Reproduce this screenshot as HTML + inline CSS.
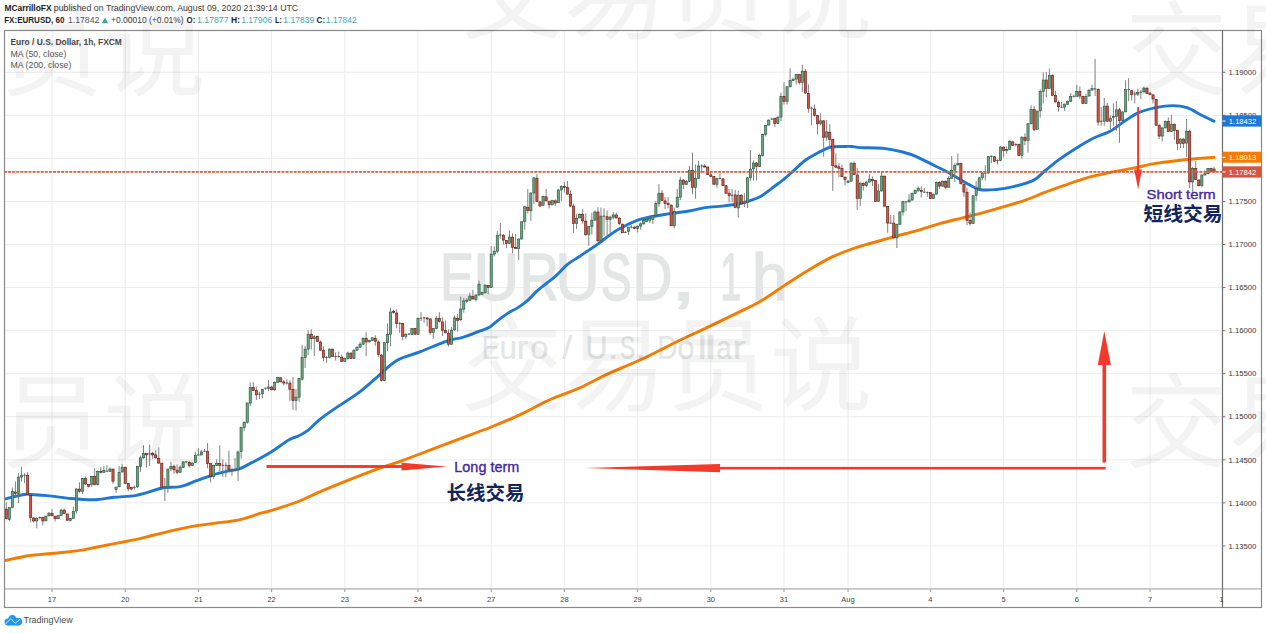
<!DOCTYPE html>
<html><head><meta charset="utf-8">
<style>
html,body{margin:0;padding:0;background:#fff;}
body{width:1266px;height:633px;overflow:hidden;position:relative;}
svg{position:absolute;left:0;top:0;display:block;}
.t{font-family:"Liberation Sans","Noto Sans CJK SC",sans-serif;}
</style></head>
<body>
<svg width="1266" height="633" viewBox="0 0 1266 633">
<rect width="1266" height="633" fill="#fff"/>
<!-- header -->
<g class="t" font-size="8.4">
<text x="4.5" y="11.2" textLength="47.0" lengthAdjust="spacingAndGlyphs" fill="#1e1e1e" font-weight="bold">MCarrilloFX</text>
<text x="53.8" y="11.2" textLength="244.4" lengthAdjust="spacingAndGlyphs" fill="#3c3c3c">published on TradingView.com, August 09, 2020 21:39:14 UTC</text>
<text x="4.2" y="23.2" textLength="60.3" lengthAdjust="spacingAndGlyphs" fill="#1e1e1e" font-weight="bold">FX:EURUSD, 60</text>
<text x="68.0" y="23.2" textLength="31.3" lengthAdjust="spacingAndGlyphs" fill="#555">1.17842</text>
<text x="111.1" y="23.2" textLength="72.6" lengthAdjust="spacingAndGlyphs" fill="#3c3c3c">+0.00010 (+0.01%)</text>
<text x="186.5" y="23.2" textLength="8.8" lengthAdjust="spacingAndGlyphs" fill="#1e1e1e" font-weight="bold">O:</text>
<text x="197.0" y="23.2" textLength="31.6" lengthAdjust="spacingAndGlyphs" fill="#4aa7a8">1.17877</text>
<text x="231.0" y="23.2" textLength="9.0" lengthAdjust="spacingAndGlyphs" fill="#1e1e1e" font-weight="bold">H:</text>
<text x="241.2" y="23.2" textLength="31.0" lengthAdjust="spacingAndGlyphs" fill="#4aa7a8">1.17906</text>
<text x="275.0" y="23.2" textLength="6.9" lengthAdjust="spacingAndGlyphs" fill="#1e1e1e" font-weight="bold">L:</text>
<text x="283.3" y="23.2" textLength="30.9" lengthAdjust="spacingAndGlyphs" fill="#4aa7a8">1.17839</text>
<text x="316.6" y="23.2" textLength="8.5" lengthAdjust="spacingAndGlyphs" fill="#1e1e1e" font-weight="bold">C:</text>
<text x="326.0" y="23.2" textLength="30.6" lengthAdjust="spacingAndGlyphs" fill="#4aa7a8">1.17842</text>
<path d="M101.8 23.2L104.95 17.4L108.1 23.2Z" fill="#3fa7a0"/>
</g>
<!-- grid -->
<path d="M4 545.96H1222M4 502.9H1222M4 459.84H1222M4 416.78H1222M4 373.72H1222M4 330.66H1222M4 287.6H1222M4 244.54H1222M4 201.48H1222M4 158.42H1222M4 115.36H1222M4 72.3H1222M52 30V589M125.2 30V589M198.4 30V589M271.6 30V589M344.8 30V589M418 30V589M491.2 30V589M564.4 30V589M637.6 30V589M710.8 30V589M784 30V589M848.05 30V589M930.4 30V589M1003.6 30V589M1076.8 30V589M1150 30V589" stroke="#ececec" stroke-width="1" fill="none"/>
<!-- symbol watermark -->
<g class="t" fill="#e4e5e5" stroke="#e4e5e5" stroke-width="1.6" stroke-linejoin="round"><text transform="matrix(0.7464 0 0 1 440.37 300.00)" font-size="67.5">E</text><text transform="matrix(0.9391 0 0 1 473.58 300.00)" font-size="67.5">U</text><text transform="matrix(0.8014 0 0 1 519.71 300.00)" font-size="67.5">R</text><text transform="matrix(0.9036 0 0 1 555.54 300.00)" font-size="67.5">U</text><text transform="matrix(0.6837 0 0 1 600.64 300.00)" font-size="67.5">S</text><text transform="matrix(0.8183 0 0 1 632.54 300.00)" font-size="67.5">D</text><text transform="matrix(1.3653 0 0 1 670.80 300.00)" font-size="67.5">,</text><text transform="matrix(0.5584 0 0 1 720.33 300.00)" font-size="67.5">1</text><text transform="matrix(0.9482 0 0 1 752.08 300.00)" font-size="67.5">h</text></g><g class="t" fill="#e4e5e5" stroke="#e4e5e5" stroke-width="0.15" stroke-linejoin="round"><text transform="matrix(0.7802 0 0 1 481.74 358.90)" font-size="33.9">E</text><text transform="matrix(0.9244 0 0 1 499.38 358.90)" font-size="33.9">u</text><text transform="matrix(1.0319 0 0 1 516.83 358.90)" font-size="33.9">r</text><text transform="matrix(0.9638 0 0 1 530.17 358.90)" font-size="33.9">o</text><text transform="matrix(1.0890 0 0 1 561.88 358.90)" font-size="33.9">/</text><text transform="matrix(0.8989 0 0 1 585.43 358.90)" font-size="33.9">U</text><text transform="matrix(1.1299 0 0 1 607.64 358.90)" font-size="33.9">.</text><text transform="matrix(0.6676 0 0 1 619.92 358.90)" font-size="33.9">S</text><text transform="matrix(1.1582 0 0 1 635.35 358.90)" font-size="33.9">.</text><text transform="matrix(0.8238 0 0 1 657.33 358.90)" font-size="33.9">D</text><text transform="matrix(0.9202 0 0 1 677.32 358.90)" font-size="33.9">o</text><text transform="matrix(1.2808 0 0 1 697.46 358.90)" font-size="33.9">l</text><text transform="matrix(1.6870 0 0 1 704.12 358.90)" font-size="33.9">l</text><text transform="matrix(0.7987 0 0 1 716.58 358.90)" font-size="33.9">a</text><text transform="matrix(1.1710 0 0 1 732.61 358.90)" font-size="33.9">r</text></g>
<!-- legend -->
<g class="t" font-size="8.6" fill="#555">
<text x="10.5" y="44.8" font-weight="bold" fill="#4a4a4a" textLength="111.4" lengthAdjust="spacingAndGlyphs">Euro / U.S. Dollar, 1h, FXCM</text>
<text x="10.5" y="56.7" textLength="55.9" lengthAdjust="spacingAndGlyphs">MA (50, close)</text>
<text x="10.5" y="68.4" textLength="60.9" lengthAdjust="spacingAndGlyphs">MA (200, close)</text>
</g>
<defs><clipPath id="pc"><rect x="5" y="31" width="1217" height="557.5"/></clipPath></defs>
<g clip-path="url(#pc)">
<!-- MAs -->
<path d="M4.7 560.6C8.65 559.8 20.5 556.98 28.4 555.8C36.3 554.62 43.8 554.37 52.1 553.5C60.4 552.63 71.08 551.6 78.2 550.6C85.32 549.6 88.08 548.8 94.8 547.5C101.52 546.2 111.78 544.1 118.5 542.8C125.22 541.5 129.18 541 135.1 539.7C141.02 538.4 145.32 537.05 154 535C162.68 532.95 177.32 529.33 187.2 527.4C197.08 525.47 204.62 524.67 213.3 523.4C221.98 522.13 231.4 521.5 239.3 519.8C247.2 518.1 255.58 514.68 260.7 513.2C265.82 511.72 263.72 512.85 270 510.9C276.28 508.95 290.5 504.5 298.4 501.5C306.3 498.5 309.48 496.28 317.4 492.9C325.32 489.52 336.42 484.98 345.9 481.2C355.38 477.42 364.82 473.68 374.3 470.2C383.78 466.72 393.32 463.72 402.8 460.3C412.28 456.88 421.73 453.27 431.2 449.7C440.67 446.13 449.8 442.6 459.6 438.9C469.4 435.2 480.08 431.47 490 427.5C499.92 423.53 508.98 419.8 519.1 415.1C529.22 410.4 540.55 403.85 550.7 399.3C560.85 394.75 570.38 392.08 580 387.8C589.62 383.52 598.13 378.35 608.4 373.6C618.67 368.85 630.53 364.45 641.6 359.3C652.67 354.15 663.73 348.07 674.8 342.7C685.87 337.33 697.73 331.98 708 327.1C718.27 322.22 727.72 317.67 736.4 313.4C745.08 309.13 752.2 306.08 760.1 301.5C768 296.92 775.9 291.03 783.8 285.9C791.7 280.77 799.6 275.45 807.5 270.7C815.4 265.95 823.3 261.18 831.2 257.4C839.1 253.62 847.25 250.65 854.9 248C862.55 245.35 870.08 243.52 877.1 241.5C884.12 239.48 890.37 237.7 897 235.9C903.63 234.1 909.8 232.73 916.9 230.7C924 228.67 932.02 225.83 939.6 223.7C947.18 221.57 955.77 219.58 962.4 217.9C969.03 216.22 972.77 215.4 979.4 213.6C986.03 211.8 994.62 209.32 1002.2 207.1C1009.78 204.88 1017.8 202.75 1024.9 200.3C1032 197.85 1038.17 194.9 1044.8 192.4C1051.43 189.9 1057.58 187.77 1064.7 185.3C1071.82 182.83 1079.92 179.73 1087.5 177.6C1095.08 175.47 1102.62 174.07 1110.2 172.5C1117.78 170.93 1125.42 169.72 1133 168.2C1140.58 166.68 1148.12 164.68 1155.7 163.4C1163.28 162.12 1170.92 161.37 1178.5 160.5C1186.08 159.63 1195.28 158.73 1201.2 158.2C1207.12 157.67 1211.87 157.45 1214 157.3" stroke="#f57c00" stroke-width="2.9" fill="none" stroke-linejoin="round" stroke-linecap="round"/>
<path d="M4.7 499.2C6.28 498.77 10.63 497.43 14.2 496.6C17.77 495.77 23.33 494.55 26.1 494.2C28.87 493.85 27.25 494.27 30.8 494.5C34.35 494.73 40.68 494.93 47.4 495.6C54.12 496.27 63.2 497.82 71.1 498.5C79 499.18 87.7 499.9 94.8 499.7C101.9 499.5 106.98 497.98 113.7 497.3C120.42 496.62 129.57 496.38 135.1 495.6C140.63 494.82 142.17 493.9 146.9 492.6C151.63 491.3 157.97 488.8 163.5 487.8C169.03 486.8 174.57 487.78 180.1 486.6C185.63 485.42 191.17 482.67 196.7 480.7C202.23 478.73 208.17 476.38 213.3 474.8C218.43 473.22 223.17 472.18 227.5 471.2C231.83 470.22 235.35 470.28 239.3 468.9C243.25 467.52 246.08 465.6 251.2 462.9C256.32 460.2 263.7 456.55 270 452.7C276.3 448.85 284.27 442.58 289 439.8C293.73 437.02 295.25 437.58 298.4 436C301.55 434.42 304.42 432.98 307.9 430.3C311.38 427.62 315.18 423.27 319.3 419.9C323.42 416.53 326.08 414.6 332.6 410.1C339.12 405.6 350.93 398.45 358.4 392.9C365.87 387.35 371.07 382.17 377.4 376.8C383.73 371.43 389.45 364.82 396.4 360.7C403.35 356.58 410.58 355.42 419.1 352.1C427.62 348.78 440.23 343.25 447.5 340.8C454.77 338.35 457.28 339.05 462.7 337.4C468.12 335.75 475.53 332.6 480 330.9C484.47 329.2 486.33 329.08 489.5 327.2C492.67 325.32 495.85 321.98 499 319.6C502.15 317.22 505.25 314.9 508.4 312.9C511.55 310.9 514.73 309.65 517.9 307.6C521.07 305.55 524.23 303.35 527.4 300.6C530.57 297.85 533.73 293.95 536.9 291.1C540.07 288.25 543.23 286.03 546.4 283.5C549.57 280.97 552.43 279.05 555.9 275.9C559.37 272.75 563.42 267.75 567.2 264.6C570.98 261.45 574.8 259.53 578.6 257C582.4 254.47 586.52 251.77 590 249.4C593.48 247.03 596.02 245.33 599.5 242.8C602.98 240.27 607.48 236.58 610.9 234.2C614.32 231.82 615.02 231 620 228.5C624.98 226 632.42 221.68 640.8 219.2C649.18 216.72 662.48 214.92 670.3 213.6C678.12 212.28 681.9 212.3 687.7 211.3C693.5 210.3 699.32 208.47 705.1 207.6C710.88 206.73 717.2 206.65 722.4 206.1C727.6 205.55 732.23 205.03 736.3 204.3C740.37 203.57 742.85 202.95 746.8 201.7C750.75 200.45 755.83 199.03 760 196.8C764.17 194.57 767.85 191.2 771.8 188.3C775.75 185.4 780.13 182.27 783.7 179.4C787.27 176.53 789.65 174.25 793.2 171.1C796.75 167.95 801.25 163.35 805 160.5C808.75 157.65 812.13 155.98 815.7 154C819.27 152.02 823.63 149.8 826.4 148.6C829.17 147.4 829.55 147.15 832.3 146.8C835.05 146.45 839.55 146.55 842.9 146.5C846.25 146.45 849.55 146.32 852.4 146.5C855.25 146.68 854.95 147.3 860 147.6C865.05 147.9 875.6 147.57 882.7 148.3C889.8 149.03 896.9 150.58 902.6 152C908.3 153.42 911.68 154.58 916.9 156.8C922.12 159.02 928.22 162.45 933.9 165.3C939.58 168.15 945.78 171.05 951 173.9C956.22 176.75 960.47 179.8 965.2 182.4C969.93 185 974.18 188.32 979.4 189.5C984.62 190.68 990.82 189.97 996.5 189.5C1002.18 189.03 1007.35 188.22 1013.5 186.7C1019.65 185.18 1028.18 183.02 1033.4 180.4C1038.62 177.78 1040.53 174.45 1044.8 171C1049.07 167.55 1053.78 163.48 1059 159.7C1064.22 155.92 1070.4 151.87 1076.1 148.3C1081.8 144.73 1087.52 141.15 1093.2 138.3C1098.88 135.45 1105 134.03 1110.2 131.2C1115.4 128.37 1119.67 124.38 1124.4 121.3C1129.13 118.22 1133.38 114.98 1138.6 112.7C1143.82 110.42 1150 108.78 1155.7 107.6C1161.4 106.42 1167.58 105.6 1172.8 105.6C1178.02 105.6 1182.27 106.03 1187 107.6C1191.73 109.17 1196.7 112.73 1201.2 115C1205.7 117.27 1211.87 120.17 1214 121.2" stroke="#1e77d3" stroke-width="2.9" fill="none" stroke-linejoin="round" stroke-linecap="round"/>
<!-- candles -->
<path d="M6.25 502.37V519.45M9.3 507.57V520.93M12.35 487.52V508.31M15.4 481.58V497.17M18.45 473.41V503.11M21.5 466.73V481.58M24.55 473.41V483.07M27.6 471.93V494.95M30.65 495.24V522.42M33.7 517.22V522.42M36.75 517.22V528.36M39.8 516.48V519.45M42.85 517.22V525.39M45.9 516.03V520.93M48.95 512.02V516.48M52 509.05V516.48M55.05 516.18V521.68M58.1 515.44V518.71M61.15 509.05V515.74M64.2 508.61V513.8M67.25 513.95V520.93M70.3 518.41V521.38M73.35 506.53V518.71M76.4 488.26V513.51M79.45 482.32V492.72M82.5 477.87V494.2M85.55 476.38V484.55M88.6 484.25V487.52M91.65 476.38V486.78M94.7 468.22V485.29M97.75 470.49V485.34M100.8 466.78V473.46M103.85 466.04V472.72M106.9 465.29V471.98M109.95 467.52V471.98M113 469.01V483.86M116.05 486.83V492.77M119.1 466.04V487.12M122.15 463.81V472.27M125.2 466.78V483.86M128.25 483.56V491.28M131.3 486.83V490.54M134.35 485.34V489.8M137.4 466.04V488.31M140.45 455.64V471.98M143.5 445.25V458.61M146.55 453.41V467.52M149.6 444.5V466.04M152.65 451.93V458.61M155.7 450.44V458.61M158.75 447.47V463.81M161.8 463.07V487.57M164.85 477.92V500.93M167.9 469.01V492.77M170.95 461.58V471.23M174 464.55V473.76M177.05 464.55V474.2M180.1 465.29V472.72M183.15 461.28V467.82M186.2 460.84V463.07M189.25 460.89V467.57M192.3 462.37V465.64M195.35 451.98V462.67M198.4 448.26V455.69M201.45 449.75V455.24M204.5 449.01V451.98M207.55 443.07V468.31M210.6 463.56V482.42M213.65 464.6V478.71M216.7 459.4V466.08M219.75 445.29V471.28M222.8 459.4V477.22M225.85 462.37V477.22M228.9 450.49V470.54M231.95 467.57V475.74M235 457.92V471.28M238.05 450.49V480.93M241.1 426.73V458.66M244.15 421.53V431.19M247.2 402.67V423.76M250.25 382.28V406.04M253.3 382.28V391.19M256.35 386.73V400.1M259.4 391.93V398.91M262.45 388.96V398.31M265.5 387.47V389.7M268.55 380.05V391.19M271.6 385.99V390.44M274.65 381.53V391.19M277.7 377.08V383.02M280.75 376.83V382.32M283.8 380.1V385.29M286.85 379.35V384.55M289.9 380.1V400.89M292.95 377.13V409.8M296 389.01V410.54M299.05 377.87V401.63M302.1 344.95V380.59M305.15 345.69V367.96M308.2 330.1V355.34M311.25 329.35V349.4M314.3 335.29V356.08M317.35 335.74V341.98M320.4 340.49V350.89M323.45 346.43V361.28M326.5 356.08V362.77M329.55 348.66V358.31M332.6 349.1V356.83M335.65 352.37V360.54M338.7 351.63V357.57M341.75 354.6V361.58M344.8 357.57V362.02M347.85 351.63V359.8M350.9 352.37V359.05M353.95 349.4V358.61M357 346.43V350.89M360.05 341.98V347.92M363.1 337.52V344.65M366.15 332.32V356.08M369.2 339.75V342.27M372.25 337.22V341.23M375.3 335.29V345.69M378.35 339.75V356.83M381.4 353.86V381.33M384.45 341.98V381.33M387.5 323.41V350.89M390.55 307.82V346.43M393.6 310.05V313.76M396.65 309.31V328.31M399.7 321.93V333.07M402.75 322.97V340.49M405.8 333.36V339.01M408.85 333.07V334.85M411.9 327.87V334.85M414.95 327.87V334.55M418 317.47V334.55M421.05 312.28V321.19M424.1 316.73V322.67M427.15 317.47V326.38M430.2 318.22V334.55M433.25 327.87V339.01M436.3 315.99V329.35M439.35 312.28V322.67M442.4 317.47V336.04M445.45 320.44V333.36M448.5 329.35V346.43M451.55 327.13V344.95M454.6 315.25V330.84M457.65 313.76V331.58M460.7 296.68V321.19M463.75 297.96V312.81M466.8 297.96V303.16M469.85 292.77V300.93M472.9 289.8V299.45M475.95 294.25V301.38M479 280.59V295.74M482.05 292.02V294.55M485.1 284.6V293.51M488.15 284.6V294.25M491.2 245.99V288.01M494.25 246.43V256.38M497.3 231.14V253.41M500.35 222.97V238.56M503.4 234.11V244.5M506.45 240.05V248.22M509.5 230.4V243.76M512.55 233.37V253.41M515.6 234.11V248.96M518.65 238.56V260.1M521.7 221.49V239.31M524.75 206.04V229.8M527.8 188.96V213.46M530.85 192.67V220.89M533.9 177.52V203.81M536.95 174.11V201.88M540 201.28V206.78M543.05 195.64V206.04M546.1 188.96V201.28M549.15 200.84V208.26M552.2 199.8V205.29M555.25 199.35V206.04M558.3 188.96V203.07M561.35 185.25V200.84M564.4 181.98V192.67M567.45 181.09V194.45M570.5 190.44V207.22M573.55 203.81V232.77M576.6 214.2V229.05M579.65 213.76V218.21M582.7 209.01V223.86M585.75 213.46V235.74M588.8 226.08V245.83M591.85 212.72V234.55M594.9 210.49V220.59M597.95 207.22V241.38M601 207.52V241.38M604.05 208.26V235.74M607.1 210.49V236.03M610.15 215.69V232.77M613.2 211.98V219.4M616.25 212.72V218.66M619.3 217.17V225.34M622.35 223.56V233.06M625.4 230.98V233.06M628.45 226.83V234.99M631.5 225.34V228.31M634.55 226.08V229.05M637.6 225.34V232.47M640.65 222.37V229.8M643.7 217.92V224.6M646.75 217.22V222.42M649.8 215.74V223.16M652.85 214.99V223.9M655.9 200.89V216.03M658.95 184.25V206.83M662 190.19V201.18M665.05 197.17V209.05M668.1 197.17V208.31M671.15 204.6V226.13M674.2 207.57V228.36M677.25 189.01V208.01M680.3 176.83V200.14M683.35 178.91V189.01M686.4 180.1V185.29M689.45 165.99V181.88M692.5 152.62V194.2M695.55 164.5V198.66M698.6 160.79V178.91M701.65 164.5V173.41M704.7 164.06V167.47M707.75 166.73V174.9M710.8 171.19V177.13M713.85 175.94V184.85M716.9 177.87V187.82M719.95 173.41V179.35M723 178.31V186.04M726.05 185.29V193.46M729.1 189.01V202.37M732.15 189.01V202.37M735.2 189.75V208.31M738.25 190.89V217.62M741.3 193.86V204.25M744.35 193.11V207.22M747.4 177.22V207.96M750.45 150.05V181.23M753.5 160.44V180.49M756.55 161.93V180.49M759.6 153.76V166.83M762.65 133.71V156.43M765.7 125.04V136.48M768.75 119.4V125.34M771.8 117.92V119.7M774.85 117.92V127.12M777.9 116.43V123.86M780.95 92.67V121.18M784 82.28V104.55M787.05 86.43V104.55M790.1 68.17V87.47M793.15 78.56V80.79M796.2 74.11V84.5M799.25 74.11V84.5M802.3 64.75V91.93M805.35 68.91V93.86M808.4 84.5V112.72M811.45 106.78V125.34M814.5 104.55V116.43M817.55 114.95V134.25M820.6 112.72V125.34M823.65 120.14V156.67M826.7 120V140.79M829.75 124.16V147.47M832.8 139.01V190.98M835.85 153.41V168.26M838.9 163.07V177.17M841.95 164.55V177.17M845 176.43V185.34M848.05 180.14V183.11M851.1 161.88V181.63M854.15 161.58V175.24M857.2 168.26V209.84M860.25 182.37V206.13M863.3 182.37V190.54M866.35 180.89V187.12M869.4 174.2V182.37M872.45 176.43V186.08M875.5 180.14V201.68M878.55 183.86V201.68M881.6 171.23V191.28M884.65 175.69V206.43M887.7 205.99V232.72M890.75 214.9V223.81M893.8 214.9V238.21M896.85 223.81V248.01M899.9 211.19V224.55M902.95 200.79V215.64M906 200.79V211.19M909.05 194.11V202.28M912.1 192.62V200.49M915.15 189.65V193.66M918.2 186.43V192.37M921.25 186.43V197.57M924.3 187.92V193.11M927.35 191.63V196.83M930.4 192.07V199.05M933.45 193.86V199.05M936.5 181.68V194.6M939.55 181.23V189.1M942.6 180.49V186.73M945.65 180.49V189.1M948.7 176.04V187.62M951.75 155.99V179.01M954.8 163.41V181.98M957.85 153.46V165.64M960.9 162.67V184.65M963.95 183.76V196.83M967 187.62V225.34M970.05 212.42V225.78M973.1 195.34V223.85M976.15 181.23V200.83M979.2 177.22V189.1M982.25 172.32V180.49M985.3 165.34V180.49M988.35 155.99V173.81M991.4 155.54V162.97M994.45 155.99V161.93M997.5 159.4V164.45M1000.55 146.04V161.19M1003.6 146.34V157.47M1006.65 146.34V153.76M1009.7 140.1V149.75M1012.75 140.84V145.74M1015.8 143.07V146.33M1018.85 143.81V156.13M1021.9 136.38V158.66M1024.95 133.41V145.29M1028 123.02V152.72M1031.05 105.2V124.5M1034.1 106.24V131.19M1037.15 110.4V129.7M1040.2 89.35V117.57M1043.25 72.28V103.46M1046.3 71.98V97.22M1049.35 68.56V88.91M1052.4 74.5V95.74M1055.45 90.84V102.27M1058.5 100.49V111.63M1061.55 101.98V107.92M1064.6 103.46V110.89M1067.65 100.49V104.95M1070.7 93.07V101.98M1073.75 94.55V97.52M1076.8 84.9V96.78M1079.85 86.38V99.01M1082.9 95.74V103.76M1085.95 93.81V103.76M1089 89.35V96.33M1092.05 84.9V90.39M1095.1 58.91V96.04M1098.15 88.31V125.74M1101.2 107.13V125.69M1104.25 97.92V125.69M1107.3 102.67V121.68M1110.35 115.29V129.4M1113.4 103.41V125.69M1116.45 101.19V130.59M1119.5 107.87V142.77M1122.55 111.58V121.23M1125.6 80.4V112.32M1128.65 78.17V101.19M1131.7 90.05V100.44M1134.75 91.53V103.41M1137.8 89.31V95.99M1140.85 90.05V98.96M1143.9 86.63V92.28M1146.95 87.52V93.76M1150 92.28V95.25M1153.05 93.76V103.41M1156.1 98.96V125.69M1159.15 124.2V139.05M1162.2 127.17V141.28M1165.25 120.49V128.21M1168.3 117.52V132.07M1171.35 114.85V132.07M1174.4 123.46V139.8M1177.45 130.14V150.19M1180.5 138.31V147.96M1183.55 138.31V147.96M1186.6 119.01V156.87M1189.65 129.48V188.25M1192.7 166.76V194.57M1195.75 161.07V180.03M1198.8 179.4V186.35M1201.85 174.34V186.98M1204.9 170.55V175.61M1207.95 168.03V174.34M1211 167.77V172.07M1214.05 166.51V172.2" stroke="#737375" stroke-width="0.9" fill="none"/><path d="M23.35 475.19H25.75M38.6 517.59H41M105.7 471.23H108.1M133.15 487.57H135.55M148.4 453.86H150.8M163.65 487.12H166.05M185 461.88H187.4M197.2 454.95H199.6M203.3 451.23H205.7M221.6 465.34H224M224.65 465.34H227.05M230.75 470.09H233.15M233.8 470.09H236.2M258.2 394.16H260.6M264.3 388.22H266.7M285.65 383.07H288.05M325.3 357.57H327.7M334.45 356.53H336.85M337.5 356.53H339.9M398.5 323.41H400.9M407.65 334.1H410.05M419.85 318.22H422.25M422.9 317.92H425.3M499.15 235.15H501.55M602.85 216.13H605.25M624.2 232.47H626.6M630.3 227.12H632.7M700.45 165.99H702.85M718.75 178.61H721.15M730.95 195.24H733.35M743.15 203.51H745.55M770.6 119.1H773M810.25 108.26H812.65M889.55 223.07H891.95M904.8 201.9H907.2M923.1 192.07H925.5M926.15 192.37H928.55M984.1 173.07H986.5M990.2 156.43H992.6M996.3 160.44H998.7M1014.6 144.55H1017M1060.35 107.17H1062.75M1072.55 96.33H1074.95M1093.9 88.91H1096.3M1100 121.23H1102.4M1127.45 89.6H1129.85M1133.55 94.06H1135.95M1139.65 92.28H1142.05" stroke="#555" stroke-width="1" fill="none"/><g fill="#6ba583" stroke="#225437" stroke-width="0.6"><rect x="8.2" y="507.57" width="2.2" height="11.88"/><rect x="11.25" y="491.68" width="2.2" height="15.89"/><rect x="17.35" y="477.13" width="2.2" height="16.34"/><rect x="20.4" y="475.19" width="2.2" height="1.93"/><rect x="35.65" y="518.41" width="2.2" height="2.52"/><rect x="44.8" y="516.03" width="2.2" height="4.9"/><rect x="47.85" y="513.21" width="2.2" height="2.52"/><rect x="57" y="515.44" width="2.2" height="3.27"/><rect x="60.05" y="510.09" width="2.2" height="5.35"/><rect x="69.2" y="518.41" width="2.2" height="2.08"/><rect x="72.25" y="511.28" width="2.2" height="7.13"/><rect x="75.3" y="489.01" width="2.2" height="21.98"/><rect x="81.4" y="478.61" width="2.2" height="12.62"/><rect x="90.55" y="476.38" width="2.2" height="8.17"/><rect x="96.65" y="471.23" width="2.2" height="13.37"/><rect x="102.75" y="470.49" width="2.2" height="1.78"/><rect x="108.85" y="469.01" width="2.2" height="2.23"/><rect x="114.95" y="487.12" width="2.2" height="2.38"/><rect x="118" y="472.27" width="2.2" height="14.55"/><rect x="121.05" y="467.22" width="2.2" height="4.75"/><rect x="136.3" y="466.33" width="2.2" height="20.49"/><rect x="139.35" y="457.87" width="2.2" height="8.46"/><rect x="142.4" y="453.41" width="2.2" height="4.46"/><rect x="166.8" y="469.01" width="2.2" height="17.82"/><rect x="169.85" y="466.33" width="2.2" height="2.38"/><rect x="179" y="467.52" width="2.2" height="4.75"/><rect x="182.05" y="461.88" width="2.2" height="5.64"/><rect x="191.2" y="463.11" width="2.2" height="2.23"/><rect x="194.25" y="455.24" width="2.2" height="7.13"/><rect x="200.35" y="451.98" width="2.2" height="2.97"/><rect x="212.55" y="465.34" width="2.2" height="11.14"/><rect x="215.6" y="463.56" width="2.2" height="1.78"/><rect x="236.95" y="451.98" width="2.2" height="17.82"/><rect x="240" y="427.47" width="2.2" height="24.21"/><rect x="243.05" y="422.28" width="2.2" height="5.2"/><rect x="246.1" y="402.97" width="2.2" height="19.31"/><rect x="249.15" y="387.47" width="2.2" height="15.59"/><rect x="261.35" y="389.4" width="2.2" height="4.46"/><rect x="267.45" y="387.03" width="2.2" height="1.49"/><rect x="273.55" y="382.28" width="2.2" height="7.43"/><rect x="276.6" y="377.52" width="2.2" height="4.75"/><rect x="294.9" y="397.17" width="2.2" height="3.42"/><rect x="297.95" y="378.31" width="2.2" height="18.86"/><rect x="301" y="357.57" width="2.2" height="21.53"/><rect x="304.05" y="349.1" width="2.2" height="8.46"/><rect x="307.1" y="334.25" width="2.2" height="14.85"/><rect x="313.2" y="336.78" width="2.2" height="1.93"/><rect x="328.45" y="349.1" width="2.2" height="8.46"/><rect x="343.7" y="358.61" width="2.2" height="2.67"/><rect x="346.75" y="353.11" width="2.2" height="5.49"/><rect x="352.85" y="350.14" width="2.2" height="8.17"/><rect x="355.9" y="347.17" width="2.2" height="2.97"/><rect x="358.95" y="344.2" width="2.2" height="2.97"/><rect x="362" y="338.26" width="2.2" height="5.94"/><rect x="368.1" y="340.49" width="2.2" height="1.49"/><rect x="371.15" y="337.82" width="2.2" height="2.67"/><rect x="383.35" y="342.72" width="2.2" height="37.87"/><rect x="386.4" y="334.25" width="2.2" height="8.46"/><rect x="389.45" y="311.98" width="2.2" height="22.28"/><rect x="404.7" y="334.25" width="2.2" height="2.08"/><rect x="410.8" y="328.61" width="2.2" height="5.94"/><rect x="416.9" y="318.51" width="2.2" height="15.74"/><rect x="432.15" y="328.61" width="2.2" height="3.71"/><rect x="435.2" y="318.22" width="2.2" height="10.4"/><rect x="450.45" y="330.1" width="2.2" height="14.11"/><rect x="453.5" y="317.92" width="2.2" height="11.88"/><rect x="459.6" y="309.01" width="2.2" height="10.69"/><rect x="462.65" y="300.93" width="2.2" height="8.17"/><rect x="465.7" y="300.19" width="2.2" height="1.19"/><rect x="468.75" y="296.03" width="2.2" height="4.16"/><rect x="474.85" y="294.99" width="2.2" height="4.46"/><rect x="477.9" y="284.15" width="2.2" height="10.84"/><rect x="480.95" y="292.47" width="2.2" height="1.78"/><rect x="484" y="285.04" width="2.2" height="7.72"/><rect x="490.1" y="254.16" width="2.2" height="33.41"/><rect x="493.15" y="251.19" width="2.2" height="2.97"/><rect x="496.2" y="235.59" width="2.2" height="15.59"/><rect x="508.4" y="237.08" width="2.2" height="6.39"/><rect x="517.55" y="239.01" width="2.2" height="9.5"/><rect x="520.6" y="221.78" width="2.2" height="17.23"/><rect x="523.65" y="206.78" width="2.2" height="14.85"/><rect x="529.75" y="192.97" width="2.2" height="17.82"/><rect x="532.8" y="177.82" width="2.2" height="15.15"/><rect x="541.95" y="196.38" width="2.2" height="8.91"/><rect x="551.1" y="200.39" width="2.2" height="4.46"/><rect x="557.2" y="190" width="2.2" height="12.77"/><rect x="560.25" y="186.43" width="2.2" height="3.56"/><rect x="575.5" y="218.21" width="2.2" height="5.35"/><rect x="578.55" y="214.65" width="2.2" height="3.27"/><rect x="587.7" y="226.53" width="2.2" height="8.02"/><rect x="590.75" y="220.14" width="2.2" height="6.39"/><rect x="593.8" y="211.98" width="2.2" height="8.17"/><rect x="599.9" y="216.13" width="2.2" height="24.8"/><rect x="609.05" y="217.17" width="2.2" height="2.23"/><rect x="612.1" y="214.95" width="2.2" height="2.23"/><rect x="627.35" y="227.12" width="2.2" height="4.16"/><rect x="636.5" y="226.08" width="2.2" height="2.23"/><rect x="639.55" y="223.86" width="2.2" height="2.23"/><rect x="642.6" y="220.14" width="2.2" height="3.71"/><rect x="645.65" y="219.45" width="2.2" height="1.93"/><rect x="648.7" y="218.71" width="2.2" height="1.49"/><rect x="651.75" y="215.74" width="2.2" height="3.71"/><rect x="654.8" y="203.56" width="2.2" height="12.18"/><rect x="657.85" y="193.46" width="2.2" height="10.1"/><rect x="673.1" y="211.28" width="2.2" height="14.55"/><rect x="676.15" y="197.17" width="2.2" height="9.95"/><rect x="679.2" y="180.1" width="2.2" height="17.08"/><rect x="685.3" y="181.58" width="2.2" height="2.97"/><rect x="688.35" y="170.44" width="2.2" height="10.84"/><rect x="694.45" y="178.31" width="2.2" height="9.21"/><rect x="697.5" y="165.99" width="2.2" height="12.33"/><rect x="715.8" y="178.61" width="2.2" height="5.64"/><rect x="737.15" y="195.34" width="2.2" height="12.62"/><rect x="746.3" y="177.82" width="2.2" height="24.95"/><rect x="749.35" y="169.35" width="2.2" height="8.46"/><rect x="752.4" y="162.97" width="2.2" height="5.94"/><rect x="758.5" y="155.54" width="2.2" height="10.84"/><rect x="761.55" y="134.46" width="2.2" height="21.09"/><rect x="764.6" y="125.34" width="2.2" height="8.91"/><rect x="767.65" y="120.14" width="2.2" height="4.9"/><rect x="776.8" y="117.17" width="2.2" height="6.39"/><rect x="779.85" y="96.38" width="2.2" height="20.79"/><rect x="785.95" y="86.73" width="2.2" height="14.55"/><rect x="789" y="80.49" width="2.2" height="6.24"/><rect x="792.05" y="79.01" width="2.2" height="1.49"/><rect x="795.1" y="74.55" width="2.2" height="4.46"/><rect x="801.2" y="71.14" width="2.2" height="11.14"/><rect x="819.5" y="120.89" width="2.2" height="2.67"/><rect x="825.6" y="131.88" width="2.2" height="5.2"/><rect x="846.95" y="181.18" width="2.2" height="1.19"/><rect x="850" y="163.36" width="2.2" height="17.82"/><rect x="859.15" y="183.11" width="2.2" height="15.3"/><rect x="865.25" y="182.07" width="2.2" height="3.56"/><rect x="868.3" y="179.1" width="2.2" height="2.97"/><rect x="877.45" y="190.98" width="2.2" height="10.4"/><rect x="880.5" y="176.13" width="2.2" height="14.85"/><rect x="895.75" y="224.25" width="2.2" height="13.66"/><rect x="898.8" y="211.93" width="2.2" height="12.33"/><rect x="901.85" y="201.53" width="2.2" height="10.4"/><rect x="907.95" y="200.05" width="2.2" height="1.93"/><rect x="911" y="193.37" width="2.2" height="6.68"/><rect x="914.05" y="190.4" width="2.2" height="2.97"/><rect x="917.1" y="188.66" width="2.2" height="1.93"/><rect x="932.35" y="194.15" width="2.2" height="4.46"/><rect x="935.4" y="182.27" width="2.2" height="11.88"/><rect x="941.5" y="181.23" width="2.2" height="4.9"/><rect x="947.6" y="178.26" width="2.2" height="8.91"/><rect x="950.65" y="170.39" width="2.2" height="7.87"/><rect x="953.7" y="165.34" width="2.2" height="4.75"/><rect x="956.75" y="163.41" width="2.2" height="1.49"/><rect x="972" y="195.79" width="2.2" height="27.62"/><rect x="975.05" y="188.36" width="2.2" height="6.98"/><rect x="978.1" y="177.82" width="2.2" height="10.84"/><rect x="981.15" y="173.07" width="2.2" height="4.75"/><rect x="987.25" y="156.43" width="2.2" height="16.63"/><rect x="999.45" y="147.08" width="2.2" height="13.37"/><rect x="1005.55" y="149.31" width="2.2" height="1.19"/><rect x="1008.6" y="141.28" width="2.2" height="8.02"/><rect x="1020.8" y="137.13" width="2.2" height="18.56"/><rect x="1026.9" y="123.76" width="2.2" height="16.63"/><rect x="1029.95" y="109.65" width="2.2" height="14.11"/><rect x="1036.05" y="111.14" width="2.2" height="18.27"/><rect x="1039.1" y="91.58" width="2.2" height="19.31"/><rect x="1042.15" y="80" width="2.2" height="11.58"/><rect x="1048.25" y="75.25" width="2.2" height="13.37"/><rect x="1063.5" y="104.2" width="2.2" height="2.97"/><rect x="1066.55" y="101.23" width="2.2" height="2.97"/><rect x="1069.6" y="96.33" width="2.2" height="4.9"/><rect x="1075.7" y="91.28" width="2.2" height="5.05"/><rect x="1084.85" y="96.33" width="2.2" height="7.13"/><rect x="1087.9" y="90.1" width="2.2" height="5.94"/><rect x="1090.95" y="88.61" width="2.2" height="1.49"/><rect x="1103.15" y="106.09" width="2.2" height="15.15"/><rect x="1109.25" y="118.26" width="2.2" height="2.97"/><rect x="1112.3" y="116.33" width="2.2" height="1.19"/><rect x="1115.35" y="109.8" width="2.2" height="6.53"/><rect x="1121.45" y="111.88" width="2.2" height="8.61"/><rect x="1124.5" y="89.6" width="2.2" height="22.28"/><rect x="1136.7" y="92.57" width="2.2" height="1.49"/><rect x="1142.8" y="88.12" width="2.2" height="3.86"/><rect x="1161.1" y="127.92" width="2.2" height="8.17"/><rect x="1164.15" y="121.68" width="2.2" height="6.24"/><rect x="1170.25" y="124.2" width="2.2" height="7.43"/><rect x="1179.4" y="139.05" width="2.2" height="4.46"/><rect x="1185.5" y="131.18" width="2.2" height="11.88"/><rect x="1191.6" y="168.66" width="2.2" height="13.27"/><rect x="1200.75" y="174.98" width="2.2" height="10.74"/><rect x="1203.8" y="173.71" width="2.2" height="1.26"/><rect x="1206.85" y="168.28" width="2.2" height="5.43"/></g><g fill="#d75442" stroke="#5b1a13" stroke-width="0.6"><rect x="5.15" y="509.05" width="2.2" height="9.65"/><rect x="14.3" y="491.98" width="2.2" height="1.49"/><rect x="26.5" y="475.19" width="2.2" height="19.45"/><rect x="29.55" y="495.24" width="2.2" height="22.28"/><rect x="32.6" y="517.96" width="2.2" height="2.97"/><rect x="41.75" y="517.22" width="2.2" height="3.71"/><rect x="50.9" y="513.21" width="2.2" height="2.52"/><rect x="53.95" y="516.18" width="2.2" height="2.52"/><rect x="63.1" y="510.09" width="2.2" height="3.42"/><rect x="66.15" y="513.95" width="2.2" height="6.24"/><rect x="78.35" y="489.01" width="2.2" height="2.23"/><rect x="84.45" y="478.61" width="2.2" height="5.49"/><rect x="87.5" y="484.25" width="2.2" height="2.08"/><rect x="93.6" y="476.38" width="2.2" height="8.17"/><rect x="99.7" y="471.23" width="2.2" height="1.04"/><rect x="111.9" y="469.01" width="2.2" height="12.18"/><rect x="124.1" y="467.22" width="2.2" height="16.34"/><rect x="127.15" y="483.56" width="2.2" height="5.05"/><rect x="130.2" y="487.57" width="2.2" height="1.49"/><rect x="145.45" y="453.41" width="2.2" height="1.49"/><rect x="151.55" y="453.41" width="2.2" height="1.49"/><rect x="154.6" y="454.9" width="2.2" height="2.97"/><rect x="157.65" y="458.31" width="2.2" height="4.75"/><rect x="160.7" y="463.07" width="2.2" height="24.06"/><rect x="172.9" y="466.33" width="2.2" height="3.42"/><rect x="175.95" y="470.19" width="2.2" height="2.08"/><rect x="188.15" y="462.37" width="2.2" height="2.97"/><rect x="206.45" y="451.23" width="2.2" height="12.33"/><rect x="209.5" y="463.56" width="2.2" height="12.92"/><rect x="218.65" y="463.56" width="2.2" height="2.08"/><rect x="227.8" y="465.34" width="2.2" height="4.46"/><rect x="252.2" y="387.47" width="2.2" height="2.97"/><rect x="255.25" y="390.44" width="2.2" height="4.46"/><rect x="270.5" y="387.03" width="2.2" height="2.67"/><rect x="279.65" y="377.87" width="2.2" height="4.01"/><rect x="282.7" y="381.88" width="2.2" height="1.19"/><rect x="288.8" y="383.07" width="2.2" height="6.24"/><rect x="291.85" y="389.3" width="2.2" height="11.29"/><rect x="310.15" y="334.25" width="2.2" height="4.46"/><rect x="316.25" y="336.33" width="2.2" height="5.35"/><rect x="319.3" y="341.98" width="2.2" height="8.17"/><rect x="322.35" y="350.14" width="2.2" height="7.43"/><rect x="331.5" y="349.1" width="2.2" height="7.43"/><rect x="340.65" y="357.12" width="2.2" height="4.16"/><rect x="349.8" y="353.11" width="2.2" height="5.2"/><rect x="365.05" y="338.26" width="2.2" height="3.71"/><rect x="374.2" y="338.26" width="2.2" height="2.97"/><rect x="377.25" y="341.98" width="2.2" height="12.62"/><rect x="380.3" y="355.04" width="2.2" height="25.54"/><rect x="392.5" y="311.53" width="2.2" height="1.04"/><rect x="395.55" y="313.02" width="2.2" height="10.4"/><rect x="401.65" y="323.41" width="2.2" height="12.92"/><rect x="413.85" y="328.61" width="2.2" height="5.64"/><rect x="426.05" y="317.92" width="2.2" height="1.04"/><rect x="429.1" y="318.96" width="2.2" height="13.37"/><rect x="438.25" y="318.22" width="2.2" height="3.27"/><rect x="441.3" y="321.93" width="2.2" height="8.46"/><rect x="444.35" y="330.39" width="2.2" height="2.38"/><rect x="447.4" y="333.07" width="2.2" height="11.14"/><rect x="456.55" y="318.22" width="2.2" height="2.23"/><rect x="471.8" y="296.48" width="2.2" height="2.52"/><rect x="487.05" y="285.34" width="2.2" height="2.23"/><rect x="502.3" y="235.15" width="2.2" height="4.9"/><rect x="505.35" y="240.49" width="2.2" height="2.97"/><rect x="511.45" y="237.08" width="2.2" height="10.4"/><rect x="514.5" y="247.47" width="2.2" height="1.04"/><rect x="526.7" y="207.22" width="2.2" height="3.27"/><rect x="535.85" y="178.12" width="2.2" height="23.46"/><rect x="538.9" y="201.88" width="2.2" height="4.16"/><rect x="545" y="196.83" width="2.2" height="4.01"/><rect x="548.05" y="201.28" width="2.2" height="3.27"/><rect x="554.15" y="200.84" width="2.2" height="2.23"/><rect x="563.3" y="186.43" width="2.2" height="1.04"/><rect x="566.35" y="187.47" width="2.2" height="6.68"/><rect x="569.4" y="194.16" width="2.2" height="11.88"/><rect x="572.45" y="206.04" width="2.2" height="17.52"/><rect x="581.6" y="214.65" width="2.2" height="6.24"/><rect x="584.65" y="221.18" width="2.2" height="13.37"/><rect x="596.85" y="211.98" width="2.2" height="28.96"/><rect x="606" y="216.73" width="2.2" height="2.67"/><rect x="615.15" y="214.95" width="2.2" height="2.97"/><rect x="618.2" y="218.21" width="2.2" height="5.35"/><rect x="621.25" y="224.15" width="2.2" height="8.61"/><rect x="633.45" y="227.12" width="2.2" height="1.49"/><rect x="660.9" y="193.46" width="2.2" height="7.13"/><rect x="663.95" y="200.89" width="2.2" height="2.67"/><rect x="667" y="203.56" width="2.2" height="1.04"/><rect x="670.05" y="205.04" width="2.2" height="20.79"/><rect x="682.25" y="180.1" width="2.2" height="4.16"/><rect x="691.4" y="170.44" width="2.2" height="17.08"/><rect x="703.6" y="165.99" width="2.2" height="1.04"/><rect x="706.65" y="167.03" width="2.2" height="7.43"/><rect x="709.7" y="174.9" width="2.2" height="1.49"/><rect x="712.75" y="176.38" width="2.2" height="7.87"/><rect x="721.9" y="178.91" width="2.2" height="6.83"/><rect x="724.95" y="185.74" width="2.2" height="7.43"/><rect x="728" y="193.16" width="2.2" height="2.52"/><rect x="734.1" y="194.95" width="2.2" height="12.62"/><rect x="740.2" y="195.34" width="2.2" height="8.61"/><rect x="755.45" y="162.97" width="2.2" height="3.42"/><rect x="773.75" y="118.21" width="2.2" height="5.35"/><rect x="782.9" y="96.38" width="2.2" height="4.9"/><rect x="798.15" y="74.55" width="2.2" height="7.72"/><rect x="804.25" y="71.14" width="2.2" height="21.83"/><rect x="807.3" y="93.41" width="2.2" height="14.85"/><rect x="813.4" y="109.01" width="2.2" height="6.24"/><rect x="816.45" y="115.69" width="2.2" height="8.17"/><rect x="822.55" y="120.89" width="2.2" height="16.34"/><rect x="828.65" y="132.18" width="2.2" height="7.13"/><rect x="831.7" y="139.31" width="2.2" height="26.43"/><rect x="834.75" y="165.74" width="2.2" height="1.49"/><rect x="837.8" y="166.78" width="2.2" height="1.49"/><rect x="840.85" y="168.26" width="2.2" height="8.46"/><rect x="843.9" y="177.17" width="2.2" height="2.52"/><rect x="853.05" y="163.36" width="2.2" height="11.29"/><rect x="856.1" y="174.95" width="2.2" height="23.46"/><rect x="862.2" y="183.56" width="2.2" height="2.08"/><rect x="871.35" y="179.4" width="2.2" height="1.49"/><rect x="874.4" y="180.59" width="2.2" height="20.79"/><rect x="883.55" y="176.13" width="2.2" height="30"/><rect x="886.6" y="206.43" width="2.2" height="16.63"/><rect x="892.7" y="223.07" width="2.2" height="14.85"/><rect x="920.15" y="190.59" width="2.2" height="1.04"/><rect x="929.3" y="192.67" width="2.2" height="5.94"/><rect x="938.45" y="182.27" width="2.2" height="3.86"/><rect x="944.55" y="181.23" width="2.2" height="5.94"/><rect x="959.8" y="163.41" width="2.2" height="20.34"/><rect x="962.85" y="184.2" width="2.2" height="7.87"/><rect x="965.9" y="192.22" width="2.2" height="28.07"/><rect x="968.95" y="220.29" width="2.2" height="3.12"/><rect x="993.35" y="156.73" width="2.2" height="4.46"/><rect x="1002.5" y="147.08" width="2.2" height="3.42"/><rect x="1011.65" y="141.88" width="2.2" height="3.42"/><rect x="1017.75" y="144.25" width="2.2" height="11.43"/><rect x="1023.85" y="137.42" width="2.2" height="2.97"/><rect x="1033" y="109.65" width="2.2" height="19.75"/><rect x="1045.2" y="80" width="2.2" height="8.61"/><rect x="1051.3" y="75.25" width="2.2" height="20.05"/><rect x="1054.35" y="95.29" width="2.2" height="6.68"/><rect x="1057.4" y="102.27" width="2.2" height="4.46"/><rect x="1078.75" y="91.28" width="2.2" height="4.75"/><rect x="1081.8" y="96.33" width="2.2" height="7.13"/><rect x="1097.05" y="89.35" width="2.2" height="32.67"/><rect x="1106.2" y="106.09" width="2.2" height="15.15"/><rect x="1118.4" y="109.8" width="2.2" height="10.99"/><rect x="1130.6" y="90.79" width="2.2" height="3.71"/><rect x="1145.85" y="88.12" width="2.2" height="5.35"/><rect x="1148.9" y="93.02" width="2.2" height="1.49"/><rect x="1151.95" y="94.95" width="2.2" height="4.01"/><rect x="1155" y="99.4" width="2.2" height="25.84"/><rect x="1158.05" y="125.24" width="2.2" height="10.84"/><rect x="1167.2" y="121.68" width="2.2" height="9.95"/><rect x="1173.3" y="124.2" width="2.2" height="6.39"/><rect x="1176.35" y="130.59" width="2.2" height="12.92"/><rect x="1182.45" y="139.05" width="2.2" height="4.46"/><rect x="1188.55" y="131.37" width="2.2" height="50.55"/><rect x="1194.65" y="168.66" width="2.2" height="10.74"/><rect x="1197.7" y="180.03" width="2.2" height="5.69"/><rect x="1209.9" y="168.28" width="2.2" height="3.54"/><rect x="1212.95" y="169.04" width="2.2" height="2.91"/></g>
<!-- price line -->
<path d="M4 171.9H1222" stroke="#de5a47" stroke-width="1.6" stroke-dasharray="3 1.08" fill="none"/>
</g>
<!-- annotations -->
<g fill="#f23a2c" stroke="none">
<rect x="266.5" y="465.05" width="136" height="2.9"/>
<path d="M401.5 462.8 L446.7 466.5 L401.5 470.6 Z"/>
<path d="M585 468.1 L720 464 L720 472.2 Z"/>
<rect x="719" y="466.9" width="386.6" height="2.6"/>
<rect x="1102.5" y="362" width="3.6" height="100.5"/>
<path d="M1104.3 331 L1110.8 365 L1097.8 365 Z"/>
<rect x="1137.1" y="107.2" width="2" height="64"/>
<path d="M1134.3 169.5 L1141.9 169.5 L1138.1 189.4 Z"/>
</g>
<g class="t">
<text x="454.3" y="471.8" font-size="14.4" fill="#4527a0" stroke="#4527a0" stroke-width="0.35" textLength="65" lengthAdjust="spacingAndGlyphs">Long term</text>
<text x="1146.5" y="198.8" font-size="13.2" fill="#4527a0" stroke="#4527a0" stroke-width="0.35" textLength="69.2" lengthAdjust="spacingAndGlyphs">Short term</text>
<text x="446.5" y="499.7" font-size="19.5" font-weight="bold" fill="#12245a" style='font-family:"Noto Sans CJK SC",sans-serif'>长线交易</text>
<text x="1143.5" y="221" font-size="19.8" font-weight="bold" fill="#12245a" style='font-family:"Noto Sans CJK SC",sans-serif'>短线交易</text>
</g>
<!-- axes and frame -->
<path d="M4 588.9H1261.5" stroke="#c4c4c4" stroke-width="1.7" fill="none"/>
<path d="M52 589V592M125.2 589V592M198.4 589V592M271.6 589V592M344.8 589V592M418 589V592M491.2 589V592M564.4 589V592M637.6 589V592M710.8 589V592M784 589V592M848.05 589V592M930.4 589V592M1003.6 589V592M1076.8 589V592M1150 589V592" stroke="#999" stroke-width="1" fill="none"/>
<path d="M1222 545.96H1225.5M1222 502.9H1225.5M1222 459.84H1225.5M1222 416.78H1225.5M1222 373.72H1225.5M1222 330.66H1225.5M1222 287.6H1225.5M1222 244.54H1225.5M1222 201.48H1225.5M1222 158.42H1225.5M1222 115.36H1225.5M1222 72.3H1225.5" stroke="#777" stroke-width="1" fill="none"/>
<rect x="4.5" y="30.5" width="1257" height="577" fill="none" stroke="#8a8a8a" stroke-width="1.2"/>
<path d="M1222.5 30V607.5" stroke="#6c6c6c" stroke-width="1.2" fill="none"/>
<g class="t" font-size="7.7" fill="#383838"><text x="1228.5" y="548.66">1.13500</text><text x="1228.5" y="505.6">1.14000</text><text x="1228.5" y="462.54">1.14500</text><text x="1228.5" y="419.48">1.15000</text><text x="1228.5" y="376.42">1.15500</text><text x="1228.5" y="333.36">1.16000</text><text x="1228.5" y="290.3">1.16500</text><text x="1228.5" y="247.24">1.17000</text><text x="1228.5" y="204.18">1.17500</text><text x="1228.5" y="161.12">1.18000</text><text x="1228.5" y="118.06">1.18500</text><text x="1228.5" y="75">1.19000</text></g>
<g class="t" font-size="7.5" fill="#444" text-anchor="middle"><text x="52" y="601.5">17</text><text x="125.2" y="601.5">20</text><text x="198.4" y="601.5">21</text><text x="271.6" y="601.5">22</text><text x="344.8" y="601.5">23</text><text x="418" y="601.5">24</text><text x="491.2" y="601.5">27</text><text x="564.4" y="601.5">28</text><text x="637.6" y="601.5">29</text><text x="710.8" y="601.5">30</text><text x="784" y="601.5">31</text><text x="848.05" y="601.5">Aug</text><text x="930.4" y="601.5">4</text><text x="1003.6" y="601.5">5</text><text x="1076.8" y="601.5">6</text><text x="1150" y="601.5">7</text></g>
<text class="t" x="1221.5" y="601.5" font-size="7.4" fill="#4a4a4a" text-anchor="middle">1</text>
<!-- last value labels -->
<rect x="1222.5" y="115.3" width="39" height="11.3" fill="#1e77d3"/>
<rect x="1222.5" y="151.7" width="39" height="11" fill="#f57c00"/>
<rect x="1222.5" y="166.3" width="39" height="11.3" fill="#d75442"/>
<g class="t" font-size="7.6" fill="#fff">
<text x="1228.8" y="123.8">1.18432</text>
<text x="1228.8" y="160">1.18013</text>
<text x="1228.8" y="174.8">1.17842</text>
</g>
<path d="M1222.5 121H1225.5M1222.5 157.3H1225.5M1222.5 172H1225.5" stroke="#fff" stroke-width="1"/>
<!-- footer logo -->
<g fill="#2196f3">
<circle cx="8.1" cy="622" r="3.6"/>
<circle cx="12.3" cy="619.5" r="4.4"/>
<circle cx="18.4" cy="621.6" r="3.8"/>
<rect x="6" y="621" width="14.5" height="4.6" rx="2"/>
</g>
<path d="M5.2 624.2 L10.9 618.6 L15.1 623.2 L20.4 619.1" stroke="#fff" stroke-width="0.75" fill="none" stroke-linejoin="round"/>
<text class="t" x="23.5" y="623.2" font-size="8.6" fill="#4a4a4a" textLength="49.3" lengthAdjust="spacingAndGlyphs">TradingView</text>
<!-- chinese watermark -->
<g fill="#000" fill-opacity="0.048" font-size="103" style='font-family:"Noto Sans CJK SC",sans-serif'>
<text x="460.5" y="31.2">交易员说</text>
<text x="460.5" y="402.9">交易员说</text>
<text x="-206" y="88.2">交易员说</text>
<text x="-206" y="459.9">交易员说</text>
<text x="1125" y="88.2">交易员说</text>
<text x="1125" y="459.9">交易员说</text>
</g>
</svg>
</body></html>
